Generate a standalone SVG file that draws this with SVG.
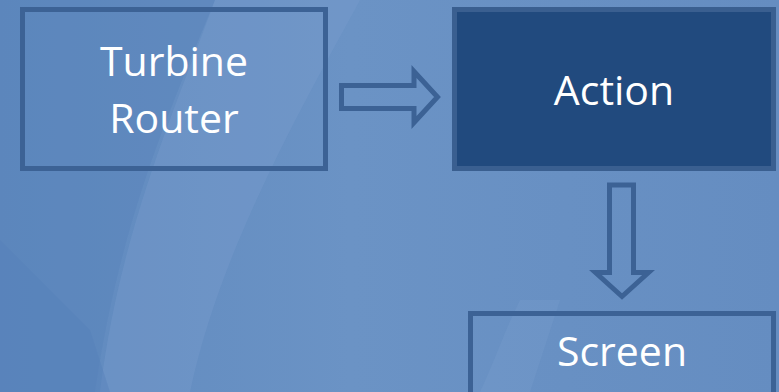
<svg xmlns="http://www.w3.org/2000/svg" width="779" height="392" viewBox="0 0 779 392">
  <style>
    .box { stroke: #3c6295; stroke-width: 5; }
    .plain { fill: none; }
    .dark { fill: #214a7e; stroke: #3a5f90; }
    .label { font-family: "Open Sans", "Noto Sans", "Liberation Sans", sans-serif; font-size: 41px; fill: #ffffff; text-anchor: middle; }
    .flow { fill: none; stroke: #3c6295; stroke-width: 5; stroke-linejoin: miter; }
  </style>
  <defs>
    <linearGradient id="bg" x1="0" y1="0" x2="1" y2="0">
      <stop offset="0" stop-color="#5f89be"/>
      <stop offset="0.45" stop-color="#6b93c5"/>
      <stop offset="1" stop-color="#658dc1"/>
    </linearGradient>
  </defs>

  <!-- backdrop with soft facets -->
  <rect x="0" y="0" width="779" height="392" fill="url(#bg)"/>
  <path d="M215,0 C170,110 120,220 95,392 L0,392 L0,0 Z" fill="#5883ba" opacity="0.45"/>
  <path d="M215,0 C175,110 120,230 100,392 L190,392 C220,250 300,110 360,0 Z" fill="#7a9fcd" opacity="0.35"/>
  <path d="M0,240 L90,330 L110,392 L0,392 Z" fill="#5680b8" opacity="0.4"/>
  <path d="M480,392 C495,360 505,330 520,300 L560,300 L530,392 Z" fill="#7ca0cd" opacity="0.3"/>

  <g id="turbine-router">
    <rect class="box plain" x="22.5" y="9.5" width="303" height="159"/>
    <text class="label" x="174" y="76">Turbine</text>
    <text class="label" x="174" y="133">Router</text>
  </g>

  <g id="action">
    <rect class="box dark" x="454.5" y="9.5" width="319" height="159"/>
    <text class="label" x="614" y="105">Action</text>
  </g>

  <g id="screen">
    <rect class="box plain" x="470.5" y="313.5" width="303" height="85"/>
    <text class="label" x="622" y="366">Screen</text>
  </g>

  <g id="connectors">
    <path class="flow" d="M341.5,85.5 L414,85.5 L414,71.5 L437.5,97 L414,122.5 L414,108.5 L341.5,108.5 Z"/>
    <path class="flow" d="M609.5,185 L633.5,185 L633.5,272.5 L648.5,272.5 L622,296.5 L595.5,272.5 L609.5,272.5 Z"/>
  </g>
</svg>
